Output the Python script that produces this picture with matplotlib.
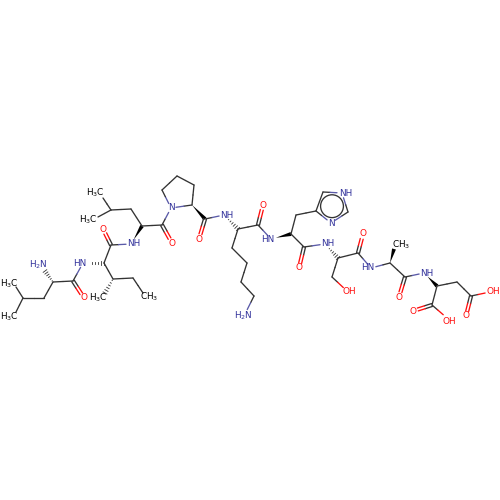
import matplotlib
matplotlib.use("Agg")
import numpy as np
import matplotlib.pyplot as plt

# atom positions (px)
atom_names = ["a1", "a2", "a3", "a4", "a5", "n1", "c1", "o1", "n2",
              "b1", "b2", "b3", "b4", "b5", "c2", "o2", "n3",
              "d1", "d2", "d3", "d4", "d5", "c3", "o3",
              "p1", "p2", "p3", "p4", "p5", "c4", "o4", "n5",
              "k1", "k2", "k3", "k4", "k5", "n6", "c5", "o5", "n7",
              "h1", "h2", "h3", "h4", "h5", "h6", "h7", "c6", "o6", "n8",
              "s1", "s2", "s3", "c7", "o7", "n9",
              "m1", "m2", "c8", "o8", "n10",
              "e1", "e2", "e3", "e4", "e5", "c9", "e6", "e7"]
atom_x = [16, 23, 16, 44, 53, 42, 73, 84, 83,
          104, 113, 105, 133, 143, 111, 103, 131,
          142, 131, 111, 103, 98, 162, 172,
          171, 162, 177, 194, 192, 205, 199, 224,
          238, 232, 247, 241, 254, 245, 258, 263, 271,
          291, 296, 316, 323, 342, 348, 331, 304, 299, 325,
          338, 332, 347, 358, 363, 371,
          390, 394, 405, 399, 424,
          437, 457, 471, 490, 466, 432, 413, 447]
atom_y = [287, 298, 312, 298, 282, 267, 281, 298, 263,
          263, 279, 293, 278, 293, 245, 229, 244,
          226, 209, 210, 198, 217, 225, 243,
          208, 190, 176, 185, 205, 219, 239, 215,
          229, 248, 263, 282, 296, 314, 225, 205, 239,
          234, 215, 211, 192, 193, 212, 223, 247, 268, 244,
          258, 277, 291, 253, 234, 268,
          263, 249, 277, 297, 273,
          286, 282, 296, 292, 316, 305, 311, 318]

# single=1, double=2, wedge=3, hash=4
bond_from = ["a1", "a3", "a2", "a4", "a5", "a5", "c1", "c1", "n2", "b1", "b2", "b2", "b4", "b1", "c2", "c2",
             "n3", "d1", "d2", "d3", "d3", "d1", "c3", "c3", "p1", "p2", "p3", "p4", "p5", "p5", "c4", "c4",
             "n5", "k1", "k2", "k3", "k4", "k5", "k1", "c5", "c5", "n7", "h1", "h2", "h3", "h4", "h5", "h6", "h7",
             "h1", "c6", "c6", "n8", "s1", "s2", "s1", "c7", "c7", "n9", "m1", "m1", "c8", "c8", "n10", "e1", "e2",
             "e3", "e3", "e1", "c9", "c9"]
bond_to = ["a2", "a2", "a4", "a5", "n1", "c1", "o1", "n2", "b1", "b2", "b3", "b4", "b5", "c2", "o2", "n3",
           "d1", "d2", "d3", "d4", "d5", "c3", "o3", "p1", "p2", "p3", "p4", "p5", "p1", "c4", "o4", "n5",
           "k1", "k2", "k3", "k4", "k5", "n6", "c5", "o5", "n7", "h1", "h2", "h3", "h4", "h5", "h6", "h7", "h3",
           "c6", "o6", "n8", "s1", "s2", "s3", "c7", "o7", "n9", "m1", "m2", "c8", "o8", "n10", "e1", "e2", "e3",
           "e4", "e5", "c9", "e6", "e7"]
bond_kind = [1, 1, 1, 1, 4, 1, 2, 1, 4, 1, 4, 1, 1, 1, 2, 1,
             3, 1, 1, 1, 1, 1, 2, 1, 1, 1, 1, 1, 1, 3, 2, 1,
             4, 1, 1, 1, 1, 1, 1, 2, 1, 3, 1, 1, 1, 1, 1, 1, 1,
             1, 2, 1, 4, 1, 1, 1, 2, 1, 1, 3, 1, 2, 1, 3, 1, 1,
             1, 2, 1, 2, 1]
ring_atoms = ["h3", "h4", "h5", "h6", "h7"]

label_text = ["H$_2$N", "HN", "O", "H$_3$C", "H$_3$C", "H$_3$C", "CH$_3$", "O", "NH", "H$_3$C", "H$_3$C",
              "O", "N", "O", "NH", "H$_2$N", "O", "HN", "NH", "N", "O", "NH", "OH", "O", "HN", "CH$_3$",
              "O", "NH", "OH", "O", "O", "OH"]
label_x = [38, 80, 84, 9, 9, 98, 149, 103, 134, 95, 88,
           172, 171, 199, 227, 243, 263, 268, 346, 331, 299, 328, 349, 363, 368, 401,
           399, 427, 493, 466, 413, 449]
label_y = [265, 263, 298, 284, 317, 298, 297, 229, 244, 193, 220,
           243, 208, 239, 215, 316, 205, 239, 193, 223, 268, 244, 292, 234, 268, 245,
           297, 273, 292, 316, 311, 321]

NAVY = "#30309a"
NAVY_BOND = "#5a5aa8"
RED = "#ff0d0d"
DARK = "#333333"
pos = dict(zip(atom_names, zip(atom_x, atom_y)))


def atom_color(name):
    if name[0] == "n" or name in ("p1", "h5", "h7"):
        return NAVY_BOND
    if name[0] == "o" or name in ("s3", "e4", "e5", "e6", "e7"):
        return RED
    return DARK


def segment(ax, p, q, c1, c2):
    mid = (p + q) / 2
    ax.plot([p[0], mid[0]], [p[1], mid[1]], color=c1, lw=0.95, solid_capstyle="round")
    ax.plot([mid[0], q[0]], [mid[1], q[1]], color=c2, lw=0.95, solid_capstyle="round")


fig = plt.figure(figsize=(5, 5), dpi=100)
ax = fig.add_axes([0, 0, 1, 1])
ax.set_xlim(0, 500)
ax.set_ylim(500, 0)
ax.axis("off")

for a, b, kind in zip(bond_from, bond_to, bond_kind):
    p, q = np.array(pos[a], float), np.array(pos[b], float)
    ca, cb = atom_color(a), atom_color(b)
    u = (q - p) / np.hypot(*(q - p))
    n = np.array([-u[1], u[0]])
    # stop short of hetero atom labels
    if ca != DARK:
        p = p + u * 5
    if cb != DARK:
        q = q - u * 5
    if kind == 1:
        segment(ax, p, q, ca, cb)
    elif kind == 2:
        segment(ax, p + n * 1.5, q + n * 1.5, ca, cb)
        segment(ax, p - n * 1.5, q - n * 1.5, ca, cb)
    elif kind == 3:
        ax.fill([p[0], q[0] + n[0] * 2, q[0] - n[0] * 2],
                [p[1], q[1] + n[1] * 2, q[1] - n[1] * 2], color="black", lw=0)
    elif kind == 4:
        for t in np.linspace(0.1, 1, 6):
            m = p + (q - p) * t
            w = 2.2 * t
            ax.plot([m[0] - n[0] * w, m[0] + n[0] * w], [m[1] - n[1] * w, m[1] + n[1] * w],
                    color="#333333", lw=0.6)

# aromatic ring is drawn with a circle inside
ring = np.array([pos[r] for r in ring_atoms], float)
ring_c = ring.mean(axis=0)
ring_r = 0.68 * np.hypot(*(ring - ring_c).T).mean()
ax.add_patch(plt.Circle(ring_c, ring_r, fill=False, ec=DARK, lw=0.95))

for txt, x, y in zip(label_text, label_x, label_y):
    if txt in ("O", "OH"):
        col = RED
    elif "N" in txt:
        col = NAVY
    else:
        col = "black"
    ax.text(x, y, txt, color=col, fontsize=6.4, ha="center", va="center", family="DejaVu Sans")

fig.savefig("out.png", dpi=100)
